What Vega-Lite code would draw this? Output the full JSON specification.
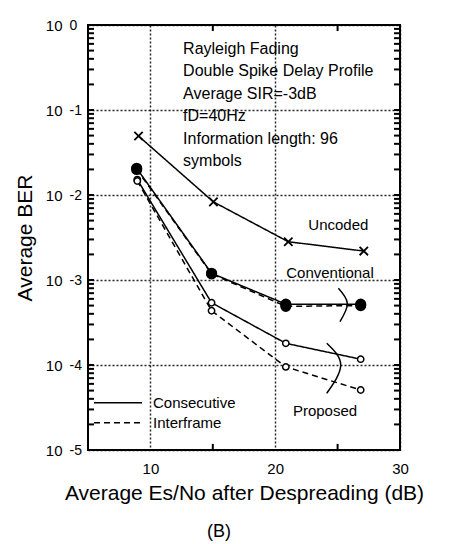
{
  "$schema": "https://vega.github.io/schema/vega-lite/v6.json",
  "width": 312,
  "height": 425,
  "autosize": {"type": "none"},
  "padding": {"left": 88, "top": 25, "right": 53, "bottom": 94},
  "background": "white",
  "config": {
    "font": "Liberation Sans",
    "view": {"stroke": "black", "strokeWidth": 2},
    "axis": {"labelColor": "black", "titleColor": "black", "tickColor": "black", "labelFont": "Liberation Sans", "titleFont": "Liberation Sans"}
  },
  "title": {"text": "(B)", "orient": "bottom", "anchor": "middle", "frame": "group", "fontSize": 18, "fontWeight": "normal", "color": "black", "offset": 20, "dx": -25},
  "datasets": {
    "curves": [
      {"curve": "U", "style": "Consecutive", "marker": "x", "x": 9.05, "ber": 0.0494},
      {"curve": "U", "style": "Consecutive", "marker": "x", "x": 15.05, "ber": 0.0083},
      {"curve": "U", "style": "Consecutive", "marker": "x", "x": 21.05, "ber": 0.00282},
      {"curve": "U", "style": "Consecutive", "marker": "x", "x": 27.1, "ber": 0.00219},
      {"curve": "CC", "style": "Consecutive", "marker": "filled", "x": 8.9, "ber": 0.0206},
      {"curve": "CC", "style": "Consecutive", "marker": "filled", "x": 14.9, "ber": 0.0012},
      {"curve": "CC", "style": "Consecutive", "marker": "filled", "x": 20.85, "ber": 0.00052},
      {"curve": "CC", "style": "Consecutive", "marker": "filled", "x": 26.85, "ber": 0.00052},
      {"curve": "CI", "style": "Interframe", "marker": "filled", "x": 8.9, "ber": 0.0200},
      {"curve": "CI", "style": "Interframe", "marker": "filled", "x": 14.9, "ber": 0.00118},
      {"curve": "CI", "style": "Interframe", "marker": "filled", "x": 20.85, "ber": 0.00049},
      {"curve": "CI", "style": "Interframe", "marker": "filled", "x": 26.85, "ber": 0.0005},
      {"curve": "PC", "style": "Consecutive", "marker": "open", "x": 8.95, "ber": 0.0152},
      {"curve": "PC", "style": "Consecutive", "marker": "open", "x": 14.9, "ber": 0.00054},
      {"curve": "PC", "style": "Consecutive", "marker": "open", "x": 20.85, "ber": 0.00018},
      {"curve": "PC", "style": "Consecutive", "marker": "open", "x": 26.85, "ber": 0.000117},
      {"curve": "PI", "style": "Interframe", "marker": "open", "x": 8.95, "ber": 0.0146},
      {"curve": "PI", "style": "Interframe", "marker": "open", "x": 14.9, "ber": 0.000435},
      {"curve": "PI", "style": "Interframe", "marker": "open", "x": 20.85, "ber": 0.000095},
      {"curve": "PI", "style": "Interframe", "marker": "open", "x": 26.85, "ber": 0.0000508}
    ],
    "block": [
      {"label": "Rayleigh Fading", "x": 12.62, "ber": 0.527},
      {"label": "Double Spike Delay Profile", "x": 12.62, "ber": 0.287},
      {"label": "Average SIR=-3dB", "x": 12.62, "ber": 0.156},
      {"label": "fD=40Hz", "x": 12.62, "ber": 0.0845},
      {"label": "Information length: 96", "x": 12.62, "ber": 0.0458},
      {"label": "symbols", "x": 12.62, "ber": 0.0248}
    ],
    "labels": [
      {"label": "Uncoded", "x": 25.06, "ber": 0.00444},
      {"label": "Conventional", "x": 24.39, "ber": 0.0012},
      {"label": "Proposed", "x": 23.99, "ber": 0.0000284}
    ],
    "brackets": [
      {"id": "conv", "seq": 1, "x": 25.06, "ber": 0.000798},
      {"id": "conv", "seq": 2, "x": 25.78, "ber": 0.000531},
      {"id": "conv", "seq": 3, "x": 25.19, "ber": 0.000323},
      {"id": "prop", "seq": 1, "x": 24.13, "ber": 0.00018},
      {"id": "prop", "seq": 2, "x": 25.25, "ber": 0.0001},
      {"id": "prop", "seq": 3, "x": 24.13, "ber": 0.0000465}
    ],
    "minorY": [
      {"v": 0.00002}, {"v": 0.00003}, {"v": 0.00004}, {"v": 0.00005}, {"v": 0.00006}, {"v": 0.00007}, {"v": 0.00008}, {"v": 0.00009},
      {"v": 0.0002}, {"v": 0.0003}, {"v": 0.0004}, {"v": 0.0005}, {"v": 0.0006}, {"v": 0.0007}, {"v": 0.0008}, {"v": 0.0009},
      {"v": 0.002}, {"v": 0.003}, {"v": 0.004}, {"v": 0.005}, {"v": 0.006}, {"v": 0.007}, {"v": 0.008}, {"v": 0.009},
      {"v": 0.02}, {"v": 0.03}, {"v": 0.04}, {"v": 0.05}, {"v": 0.06}, {"v": 0.07}, {"v": 0.08}, {"v": 0.09},
      {"v": 0.2}, {"v": 0.3}, {"v": 0.4}, {"v": 0.5}, {"v": 0.6}, {"v": 0.7}, {"v": 0.8}, {"v": 0.9},
      {"v": 0.0001}, {"v": 0.001}, {"v": 0.01}, {"v": 0.1}
    ],
    "minorX": [{"v": 15}, {"v": 25}]
  },
  "layer": [
    {
      "data": {"name": "curves"},
      "mark": {"type": "line", "stroke": "black", "strokeWidth": 1.5},
      "encoding": {
        "x": {"field": "x", "type": "quantitative", "scale": {"domain": [5, 30], "nice": false, "zero": false},
          "axis": {"orient": "bottom", "values": [10, 20, 30], "ticks": false, "domain": false, "grid": true, "gridDash": [2, 2], "gridColor": "black", "gridWidth": 1.5, "gridOpacity": 0.85,
            "labelFontSize": 15, "labelPadding": 11, "labelFlush": false, "title": "Average Es/No after Despreading (dB)", "titleFontSize": 21, "titleFontWeight": "normal", "titlePadding": 6}},
        "y": {"field": "ber", "type": "quantitative", "scale": {"type": "log", "domain": [0.00001, 1], "nice": false},
          "axis": {"orient": "left", "values": [0.00001, 0.0001, 0.001, 0.01, 0.1, 1], "ticks": false, "domain": false, "grid": true, "gridDash": [2, 2], "gridColor": "black", "gridWidth": 1.5, "gridOpacity": 0.85,
            "labelExpr": "'10'", "labelFontSize": 15, "labelPadding": 26, "labelDy": 3, "labelFlush": false, "title": "Average BER", "titleFontSize": 21, "titleFontWeight": "normal", "titlePadding": 10}},
        "detail": {"field": "curve", "type": "nominal"},
        "strokeDash": {"field": "style", "type": "nominal", "scale": {"domain": ["Consecutive", "Interframe"], "range": [[1, 0], [6, 4]]},
          "legend": {"title": null, "orient": "none", "legendX": 5, "legendY": 368, "symbolType": "stroke", "symbolSize": 2304, "symbolStrokeWidth": 1.5, "symbolStrokeColor": "black", "labelFontSize": 15, "labelColor": "black", "labelOffset": 10, "rowPadding": 0, "clipHeight": 19.6, "padding": 0}}
      }
    },
    {
      "data": {"name": "minorY"},
      "mark": {"type": "rule", "stroke": "black", "strokeWidth": 2, "clip": false},
      "encoding": {
        "x": {"datum": 5, "type": "quantitative", "scale": {"domain": [5, 30], "nice": false, "zero": false}, "axis": null},
        "x2": {"datum": 5.48},
        "y": {"field": "v", "type": "quantitative", "scale": {"type": "log", "domain": [0.00001, 1], "nice": false}, "axis": null}
      }
    },
    {
      "data": {"name": "minorY"},
      "mark": {"type": "rule", "stroke": "black", "strokeWidth": 2, "clip": false},
      "encoding": {
        "x": {"datum": 30, "type": "quantitative", "scale": {"domain": [5, 30], "nice": false, "zero": false}, "axis": null},
        "x2": {"datum": 29.52},
        "y": {"field": "v", "type": "quantitative", "scale": {"type": "log", "domain": [0.00001, 1], "nice": false}, "axis": null}
      }
    },
    {
      "data": {"name": "minorX"},
      "mark": {"type": "rule", "stroke": "black", "strokeWidth": 2, "clip": false},
      "encoding": {
        "x": {"field": "v", "type": "quantitative", "scale": {"domain": [5, 30], "nice": false, "zero": false}, "axis": null},
        "y": {"datum": 0.00001, "type": "quantitative", "scale": {"type": "log", "domain": [0.00001, 1], "nice": false}, "axis": null},
        "y2": {"datum": 0.0000118}
      }
    },
    {
      "data": {"name": "minorX"},
      "mark": {"type": "rule", "stroke": "black", "strokeWidth": 2, "clip": false},
      "encoding": {
        "x": {"field": "v", "type": "quantitative", "scale": {"domain": [5, 30], "nice": false, "zero": false}, "axis": null},
        "y": {"datum": 1, "type": "quantitative", "scale": {"type": "log", "domain": [0.00001, 1], "nice": false}, "axis": null},
        "y2": {"datum": 0.85}
      }
    },
    {
      "data": {"name": "curves"},
      "transform": [{"filter": "datum.marker == 'filled'"}],
      "mark": {"type": "point", "shape": "circle", "filled": true, "fill": "black", "stroke": "black", "size": 85, "opacity": 1},
      "encoding": {
        "x": {"field": "x", "type": "quantitative", "scale": {"domain": [5, 30], "nice": false, "zero": false}, "axis": null},
        "y": {"field": "ber", "type": "quantitative", "scale": {"type": "log", "domain": [0.00001, 1], "nice": false}, "axis": null}
      }
    },
    {
      "data": {"name": "curves"},
      "transform": [{"filter": "datum.marker == 'open'"}],
      "mark": {"type": "point", "shape": "circle", "filled": false, "fill": "white", "fillOpacity": 1, "stroke": "black", "strokeWidth": 1.5, "size": 40, "opacity": 1},
      "encoding": {
        "x": {"field": "x", "type": "quantitative", "scale": {"domain": [5, 30], "nice": false, "zero": false}, "axis": null},
        "y": {"field": "ber", "type": "quantitative", "scale": {"type": "log", "domain": [0.00001, 1], "nice": false}, "axis": null}
      }
    },
    {
      "data": {"name": "curves"},
      "transform": [{"filter": "datum.marker == 'x'"}],
      "mark": {"type": "point", "shape": "M-1,-1L1,1M-1,1L1,-1", "filled": false, "stroke": "black", "strokeWidth": 1.8, "size": 70, "opacity": 1},
      "encoding": {
        "x": {"field": "x", "type": "quantitative", "scale": {"domain": [5, 30], "nice": false, "zero": false}, "axis": null},
        "y": {"field": "ber", "type": "quantitative", "scale": {"type": "log", "domain": [0.00001, 1], "nice": false},
          "axis": {"orient": "left", "values": [0.00001, 0.0001, 0.001, 0.01, 0.1, 1], "ticks": false, "domain": false, "grid": false, "title": null,
            "labelExpr": "datum.value > 0.5 ? '0' : datum.value > 0.05 ? '-1' : datum.value > 0.005 ? '-2' : datum.value > 0.0005 ? '-3' : datum.value > 0.00005 ? '-4' : '-5'",
            "labelFontSize": 14, "labelAlign": "left", "labelPadding": 19, "labelDy": -5, "labelFlush": false}}
      }
    },
    {
      "data": {"name": "brackets"},
      "mark": {"type": "line", "stroke": "black", "strokeWidth": 1.5, "interpolate": "natural"},
      "encoding": {
        "x": {"field": "x", "type": "quantitative", "scale": {"domain": [5, 30], "nice": false, "zero": false}, "axis": null},
        "y": {"field": "ber", "type": "quantitative", "scale": {"type": "log", "domain": [0.00001, 1], "nice": false}, "axis": null},
        "detail": {"field": "id", "type": "nominal"},
        "order": {"field": "seq", "type": "quantitative"}
      }
    },
    {
      "data": {"name": "block"},
      "mark": {"type": "text", "align": "left", "baseline": "middle", "fontSize": 16, "color": "black"},
      "encoding": {
        "x": {"field": "x", "type": "quantitative", "scale": {"domain": [5, 30], "nice": false, "zero": false}, "axis": null},
        "y": {"field": "ber", "type": "quantitative", "scale": {"type": "log", "domain": [0.00001, 1], "nice": false}, "axis": null},
        "text": {"field": "label", "type": "nominal"}
      }
    },
    {
      "data": {"name": "labels"},
      "mark": {"type": "text", "align": "center", "baseline": "middle", "fontSize": 15, "color": "black"},
      "encoding": {
        "x": {"field": "x", "type": "quantitative", "scale": {"domain": [5, 30], "nice": false, "zero": false}, "axis": null},
        "y": {"field": "ber", "type": "quantitative", "scale": {"type": "log", "domain": [0.00001, 1], "nice": false}, "axis": null},
        "text": {"field": "label", "type": "nominal"}
      }
    }
  ],
  "resolve": {"axis": {"x": "independent", "y": "independent"}}
}
